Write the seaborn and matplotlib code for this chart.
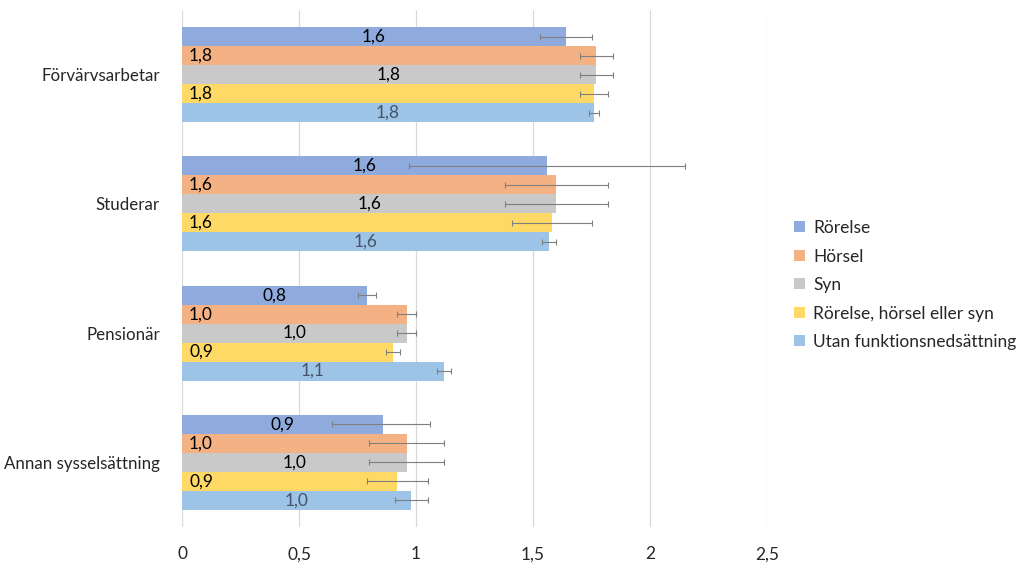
import numpy as np
import pandas as pd
import matplotlib
matplotlib.use("Agg")
import matplotlib.pyplot as plt
import seaborn as sns

# data
categories = ["Förvärvsarbetar", "Studerar", "Pensionär", "Annan sysselsättning"]
groups = ["Rörelse", "Hörsel", "Syn", "Rörelse, hörsel eller syn", "Utan funktionsnedsättning"]

values = {
    "Rörelse":                   [1.64, 1.56, 0.79, 0.86],
    "Hörsel":                    [1.77, 1.60, 0.96, 0.96],
    "Syn":                       [1.77, 1.60, 0.96, 0.96],
    "Rörelse, hörsel eller syn": [1.76, 1.58, 0.90, 0.92],
    "Utan funktionsnedsättning": [1.76, 1.57, 1.12, 0.98],
}
err_low = {
    "Rörelse":                   [1.53, 0.97, 0.75, 0.64],
    "Hörsel":                    [1.70, 1.38, 0.92, 0.80],
    "Syn":                       [1.70, 1.38, 0.92, 0.80],
    "Rörelse, hörsel eller syn": [1.70, 1.41, 0.87, 0.79],
    "Utan funktionsnedsättning": [1.74, 1.54, 1.09, 0.91],
}
err_high = {
    "Rörelse":                   [1.75, 2.15, 0.83, 1.06],
    "Hörsel":                    [1.84, 1.82, 1.00, 1.12],
    "Syn":                       [1.84, 1.82, 1.00, 1.12],
    "Rörelse, hörsel eller syn": [1.82, 1.75, 0.93, 1.05],
    "Utan funktionsnedsättning": [1.78, 1.60, 1.15, 1.05],
}
x_ticks = [0, 0.5, 1, 1.5, 2, 2.5]
x_ticklabels = ["0", "0,5", "1", "1,5", "2", "2,5"]

colors = ["#8FAADC", "#F4B183", "#C9C9C9", "#FFD966", "#9DC3E6"]
label_colors = ["black", "black", "black", "black", "#44546A"]
label_inside_base = [False, True, False, True, False]

rows = []
for g in groups:
    for i, c in enumerate(categories):
        rows.append({"kategori": c, "grupp": g, "varde": values[g][i]})
df = pd.DataFrame(rows)

sns.set_style("white")
plt.rcParams["font.family"] = ["Lato", "DejaVu Sans"]

fig = plt.figure(figsize=(10.24, 5.67), dpi=100)
ax = fig.add_axes([182 / 1024, 1 - 527 / 567, (767 - 182) / 1024, (527 - 10) / 567])

sns.barplot(data=df, y="kategori", x="varde", hue="grupp", order=categories,
            hue_order=groups, palette=colors, orient="h", width=0.735,
            errorbar=None, saturation=1, linewidth=0, ax=ax, legend=True)

# error bars and value labels on each bar
for k, (g, cont) in enumerate(zip(groups, ax.containers)):
    for i, patch in enumerate(cont.patches):
        yc = patch.get_y() + patch.get_height() / 2
        v = patch.get_width()
        lo = v - err_low[g][i]
        hi = err_high[g][i] - v
        ax.errorbar(v, yc, xerr=[[lo], [hi]], fmt="none", ecolor="#7F7F7F",
                    elinewidth=0.8, capsize=2.5, capthick=0.8, zorder=3)
        txt = f"{v:.1f}".replace(".", ",")
        if label_inside_base[k]:
            ax.text(0.03, yc, txt, ha="left", va="center", fontsize=12.5,
                    color=label_colors[k], zorder=4)
        else:
            ax.text(v / 2, yc, txt, ha="center", va="center", fontsize=12.5,
                    color=label_colors[k], zorder=4)

ax.set_xlim(0, 2.5)
ax.set_ylim(3.5, -0.5)
ax.set_xticks(x_ticks)
ax.set_xticklabels(x_ticklabels, fontsize=12.5)
ax.tick_params(axis="x", length=0, pad=14)
ax.tick_params(axis="y", length=0, pad=16, labelsize=12.2)
ax.xaxis.grid(True, color="#D9D9D9", linewidth=0.9)
ax.set_axisbelow(True)
for s in ax.spines.values():
    s.set_visible(False)
ax.set_xlabel("")
ax.set_ylabel("")

leg = ax.legend(loc="center left", bbox_to_anchor=(1.02, 0.468), frameon=False,
                fontsize=12.5, handlelength=0.6, handleheight=0.6,
                handletextpad=0.5, labelspacing=0.72)

fig.savefig("out.png", dpi=100)
